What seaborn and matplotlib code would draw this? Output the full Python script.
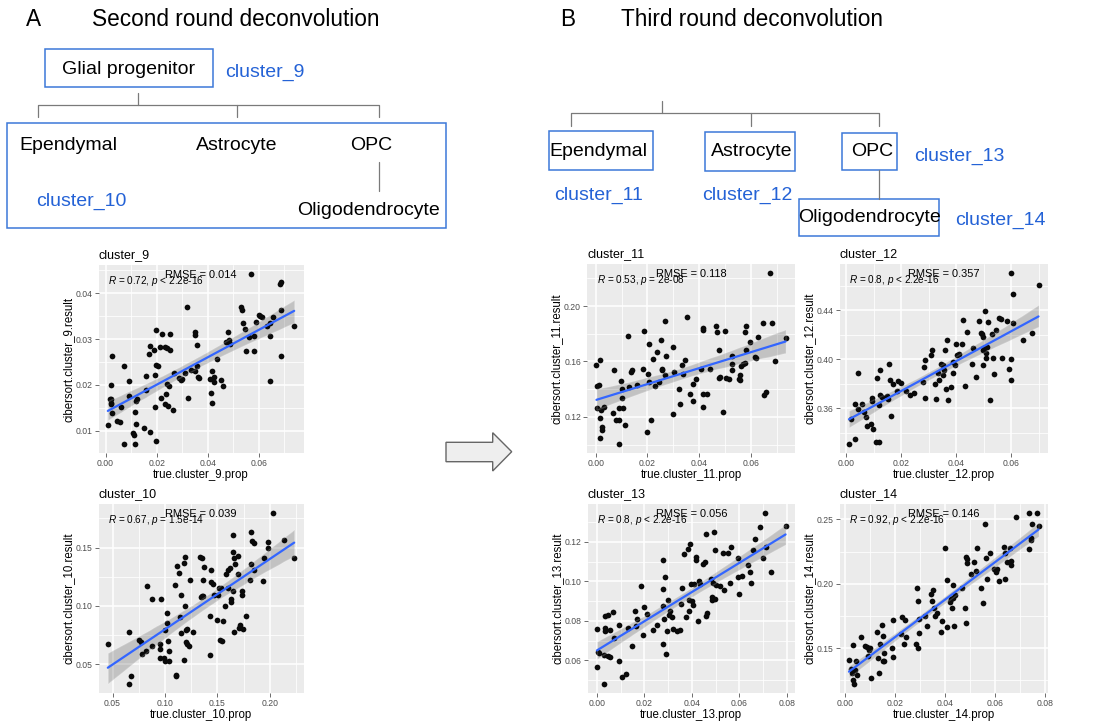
import numpy as np
import pandas as pd
import matplotlib
matplotlib.use("Agg")
import matplotlib.pyplot as plt
import seaborn as sns
from matplotlib.ticker import MultipleLocator, FormatStrFormatter
from matplotlib.patches import Rectangle, Polygon
from matplotlib.lines import Line2D

# ---------------- data ----------------
cluster_names = ["cluster_9", "cluster_10", "cluster_11", "cluster_12", "cluster_13", "cluster_14"]
r_values = ["0.72", "0.67", "0.53", "0.8", "0.8", "0.92"]
p_texts = ["< 2.2e-16", "= 1.5e-14", "= 2e-08", "< 2.2e-16", "< 2.2e-16", "< 2.2e-16"]
rmse_values = ["0.014", "0.039", "0.118", "0.357", "0.056", "0.146"]

c9_true = [0.0009,0.0017,0.0022,0.0020,0.0023,0.0026,0.0022,0.0026,0.0045,0.0058,
           0.0060,0.0071,0.0074,0.0090,0.0091,0.0108,0.0113,0.0116,0.0118,0.0116,
           0.0120,0.0122,0.0149,0.0160,0.0160,0.0169,0.0173,0.0174,0.0190,0.0194,
           0.0192,0.0196,0.0199,0.0199,0.0204,0.0212,0.0218,0.0222,0.0231,0.0232,
           0.0238,0.0240,0.0244,0.0242,0.0247,0.0253,0.0251,0.0264,0.0269,0.0286,
           0.0295,0.0299,0.0312,0.0318,0.0321,0.0334,0.0349,0.0349,0.0351,0.0357,
           0.0357,0.0362,0.0364,0.0409,0.0414,0.0418,0.0418,0.0425,0.0425,0.0438,
           0.0453,0.0461,0.0471,0.0478,0.0482,0.0486,0.0530,0.0532,0.0538,0.0547,
           0.0548,0.0561,0.0569,0.0581,0.0582,0.0588,0.0600,0.0604,0.0613,0.0632,
           0.0643,0.0645,0.0645,0.0656,0.0682,0.0688,0.0688,0.0688,0.0738]
c9_result = [0.0112,0.0169,0.0169,0.0160,0.0158,0.0139,0.0199,0.0263,0.0122,0.0120,
             0.0152,0.0070,0.0242,0.0208,0.0175,0.0096,0.0091,0.0141,0.0114,0.0070,
             0.0165,0.0169,0.0107,0.0188,0.0219,0.0268,0.0285,0.0098,0.0277,0.0152,
             0.0221,0.0320,0.0077,0.0244,0.0241,0.0283,0.0172,0.0310,0.0158,0.0282,
             0.0180,0.0280,0.0154,0.0201,0.0197,0.0310,0.0277,0.0146,0.0226,0.0214,
             0.0210,0.0212,0.0225,0.0371,0.0172,0.0233,0.0315,0.0308,0.0230,0.0288,
             0.0241,0.0217,0.0214,0.0213,0.0183,0.0230,0.0161,0.0217,0.0207,0.0257,
             0.0211,0.0197,0.0293,0.0315,0.0298,0.0290,0.0371,0.0364,0.0335,0.0322,
             0.0275,0.0304,0.0443,0.0275,0.0306,0.0337,0.0353,0.0350,0.0348,0.0328,
             0.0307,0.0208,0.0335,0.0349,0.0420,0.0424,0.0364,0.0263,0.0328]

c10_true = [0.0455,0.0659,0.0659,0.0675,0.0755,0.0774,0.0780,0.0815,0.0831,0.0879,
            0.0879,0.0949,0.0952,0.0952,0.0965,0.0990,0.1003,0.0997,0.1016,0.1022,
            0.1029,0.1038,0.1041,0.1096,0.1102,0.1105,0.1111,0.1137,0.1140,0.1153,
            0.1156,0.1182,0.1188,0.1185,0.1191,0.1197,0.1204,0.1213,0.1213,0.1229,
            0.1239,0.1270,0.1334,0.1354,0.1340,0.1354,0.1366,0.1373,0.1366,0.1427,
            0.1430,0.1436,0.1436,0.1462,0.1468,0.1500,0.1506,0.1516,0.1525,0.1532,
            0.1548,0.1554,0.1570,0.1586,0.1602,0.1605,0.1621,0.1627,0.1634,0.1646,
            0.1650,0.1653,0.1659,0.1659,0.1666,0.1697,0.1697,0.1707,0.1716,0.1732,
            0.1739,0.1748,0.1770,0.1812,0.1825,0.1825,0.1828,0.1850,0.1850,0.1939,
            0.1946,0.1987,0.1987,0.2029,0.2131,0.2232]
c10_result = [0.0678,0.0778,0.0328,0.0399,0.0712,0.0692,0.0590,0.0613,0.1168,0.1063,
              0.0661,0.0675,0.0632,0.0550,0.1063,0.0556,0.0527,0.0792,0.0855,0.0940,
              0.0704,0.0527,0.0613,0.1177,0.0399,0.0410,0.1345,0.1282,0.0903,0.1097,
              0.0769,0.1368,0.0997,0.0533,0.1419,0.0690,0.0798,0.0806,0.0675,0.0661,
              0.1225,0.0778,0.1419,0.1407,0.1077,0.1083,0.1225,0.1330,0.1083,0.0576,
              0.0917,0.1202,0.1305,0.1191,0.1097,0.0883,0.1097,0.1154,0.0712,0.1154,
              0.0700,0.0869,0.0997,0.1274,0.1305,0.1154,0.1325,0.1031,0.1060,0.1125,
              0.1610,0.1459,0.1410,0.0778,0.1362,0.1276,0.1425,0.0812,0.0835,0.1097,
              0.1125,0.0806,0.0917,0.1225,0.1632,0.1359,0.1553,0.1538,0.1305,0.1217,
              0.1410,0.1547,0.1496,0.1800,0.1561,0.1407]

c11_true = [0.0003,0.0005,0.0005,0.0013,0.0016,0.0016,0.0018,0.0022,0.0026,0.0026,
            0.0034,0.0065,0.0071,0.0078,0.0089,0.0091,0.0091,0.0096,0.0100,0.0103,
            0.0106,0.0113,0.0124,0.0129,0.0138,0.0142,0.0158,0.0184,0.0186,0.0197,
            0.0202,0.0204,0.0207,0.0212,0.0222,0.0229,0.0235,0.0246,0.0252,0.0255,
            0.0255,0.0269,0.0270,0.0269,0.0297,0.0300,0.0303,0.0323,0.0326,0.0332,
            0.0336,0.0345,0.0354,0.0365,0.0375,0.0375,0.0388,0.0407,0.0413,0.0415,
            0.0415,0.0416,0.0429,0.0442,0.0466,0.0468,0.0477,0.0478,0.0481,0.0491,
            0.0499,0.0504,0.0513,0.0526,0.0527,0.0527,0.0555,0.0556,0.0559,0.0561,
            0.0569,0.0578,0.0578,0.0582,0.0582,0.0597,0.0614,0.0619,0.0625,0.0647,
            0.0649,0.0656,0.0672,0.0680,0.0693,0.0733]
c11_result = [0.1573,0.1422,0.1265,0.1429,0.1610,0.1193,0.1048,0.1253,0.1104,0.1128,
              0.1272,0.1229,0.1537,0.1176,0.1181,0.1002,0.1267,0.1458,0.1340,0.1405,
              0.1265,0.1140,0.1783,0.1417,0.1525,0.1537,0.1434,0.1549,0.1822,0.1092,
              0.1513,0.1453,0.1723,0.1181,0.1617,0.1422,0.1670,0.1453,0.1754,0.1549,
              0.1537,0.1892,0.1639,0.1501,0.1706,0.1219,0.1525,0.1398,0.1292,0.1573,
              0.1508,0.1610,0.1923,0.1369,0.1441,0.1313,0.1477,0.1549,0.1839,0.1827,
              0.1272,0.1369,0.1369,0.1549,0.1855,0.1810,0.1682,0.1482,0.1489,0.1236,
              0.1822,0.1482,0.1477,0.1639,0.1581,0.1537,0.1477,0.1501,0.1465,0.1566,
              0.1581,0.1586,0.1814,0.1855,0.1682,0.1737,0.1629,0.1622,0.1778,0.1875,
              0.1357,0.1381,0.2241,0.1875,0.1602,0.1770]

c12_true = [0.0011,0.0018,0.0032,0.0034,0.0042,0.0044,0.0058,0.0067,0.0074,0.0076,
            0.0092,0.0093,0.0095,0.0098,0.0108,0.0120,0.0113,0.0121,0.0122,0.0125,
            0.0131,0.0147,0.0153,0.0155,0.0159,0.0164,0.0171,0.0185,0.0189,0.0200,
            0.0219,0.0232,0.0248,0.0280,0.0282,0.0285,0.0286,0.0307,0.0313,0.0322,
            0.0325,0.0335,0.0337,0.0343,0.0352,0.0353,0.0355,0.0359,0.0365,0.0361,
            0.0370,0.0379,0.0387,0.0388,0.0394,0.0399,0.0404,0.0410,0.0424,0.0422,
            0.0432,0.0440,0.0458,0.0462,0.0473,0.0482,0.0488,0.0493,0.0496,0.0498,
            0.0498,0.0501,0.0503,0.0507,0.0509,0.0513,0.0515,0.0522,0.0528,0.0533,
            0.0537,0.0544,0.0555,0.0561,0.0567,0.0582,0.0592,0.0598,0.0600,0.0600,
            0.0607,0.0607,0.0642,0.0673,0.0698]
c12_result = [0.3304,0.3514,0.3637,0.3350,0.3596,0.3888,0.3631,0.3569,0.3528,0.3451,
              0.3473,0.3659,0.3683,0.3427,0.3323,0.3323,0.3847,0.3623,0.3705,0.3915,
              0.3691,0.3697,0.3678,0.3964,0.3833,0.3536,0.3801,0.3738,0.3822,0.3806,
              0.3738,0.3705,0.3724,0.3814,0.3937,0.3997,0.3686,0.4038,0.4079,0.3801,
              0.3672,0.3891,0.3833,0.3959,0.3951,0.3874,0.3910,0.4074,0.4156,0.3754,
              0.3670,0.3773,0.3978,0.3888,0.3951,0.4128,0.4033,0.4046,0.4320,0.4128,
              0.3779,0.4224,0.3959,0.4096,0.3855,0.4314,0.4218,0.4205,0.4183,0.4074,
              0.3951,0.4096,0.4396,0.4014,0.4052,0.4101,0.4306,0.3670,0.4210,0.4014,
              0.3877,0.4238,0.4339,0.4328,0.4011,0.4311,0.3924,0.4005,0.3833,0.4710,
              0.4538,0.4298,0.4156,0.4216,0.4606]

c13_true = [0.0000,0.0000,0.0003,0.0007,0.0028,0.0028,0.0035,0.0035,0.0036,0.0046,
            0.0046,0.0056,0.0057,0.0067,0.0070,0.0091,0.0095,0.0107,0.0123,0.0129,
            0.0147,0.0160,0.0164,0.0168,0.0186,0.0193,0.0199,0.0210,0.0238,0.0255,
            0.0278,0.0278,0.0280,0.0283,0.0280,0.0286,0.0292,0.0294,0.0301,0.0303,
            0.0308,0.0315,0.0322,0.0339,0.0350,0.0355,0.0360,0.0365,0.0374,0.0383,
            0.0388,0.0388,0.0393,0.0397,0.0402,0.0405,0.0409,0.0418,0.0418,0.0428,
            0.0432,0.0435,0.0446,0.0456,0.0460,0.0460,0.0465,0.0479,0.0484,0.0486,
            0.0491,0.0493,0.0498,0.0498,0.0500,0.0519,0.0533,0.0536,0.0551,0.0561,
            0.0565,0.0593,0.0596,0.0599,0.0610,0.0638,0.0645,0.0649,0.0659,0.0666,
            0.0687,0.0698,0.0708,0.0712,0.0733,0.0795]
c13_result = [0.0760,0.0566,0.0644,0.0639,0.0479,0.0630,0.0824,0.0765,0.0751,0.0832,
              0.0625,0.0618,0.0753,0.0845,0.0714,0.0597,0.0778,0.0518,0.0533,0.0765,
              0.0672,0.0852,0.0773,0.0812,0.0978,0.0731,0.0869,0.0837,0.0756,0.0778,
              0.1106,0.0961,0.0874,0.0812,0.0681,0.1022,0.0634,0.0751,0.0904,0.0829,
              0.0849,0.0818,0.0760,0.0748,0.0756,0.0886,0.0966,0.1138,0.0818,0.1165,
              0.0908,0.0852,0.1190,0.0988,0.0903,0.0882,0.0988,0.1121,0.1109,0.0798,
              0.1000,0.0988,0.1089,0.1097,0.1240,0.0824,0.0840,0.1013,0.0919,0.0908,
              0.0992,0.1249,0.0911,0.1160,0.0983,0.0975,0.1146,0.0958,0.1146,0.0992,
              0.1176,0.1118,0.1020,0.0936,0.1025,0.1084,0.1050,0.0992,0.1160,0.1213,
              0.1274,0.1118,0.1348,0.1176,0.1047,0.1280]

c14_true = [0.0016,0.0023,0.0027,0.0033,0.0033,0.0036,0.0040,0.0045,0.0049,0.0063,
            0.0080,0.0089,0.0093,0.0095,0.0099,0.0104,0.0128,0.0132,0.0137,0.0139,
            0.0147,0.0153,0.0153,0.0156,0.0157,0.0187,0.0193,0.0193,0.0225,0.0229,
            0.0236,0.0240,0.0244,0.0283,0.0289,0.0292,0.0293,0.0296,0.0297,0.0320,
            0.0327,0.0345,0.0349,0.0353,0.0356,0.0361,0.0369,0.0383,0.0389,0.0400,
            0.0407,0.0409,0.0419,0.0425,0.0429,0.0432,0.0433,0.0436,0.0439,0.0469,
            0.0480,0.0483,0.0485,0.0487,0.0487,0.0505,0.0516,0.0523,0.0529,0.0544,
            0.0552,0.0559,0.0563,0.0567,0.0580,0.0596,0.0603,0.0605,0.0609,0.0616,
            0.0636,0.0639,0.0640,0.0647,0.0660,0.0663,0.0663,0.0683,0.0736,0.0736,
            0.0743,0.0745,0.0749,0.0769,0.0775]
c14_result = [0.1405,0.1338,0.1306,0.1527,0.1255,0.1218,0.1327,0.1403,0.1288,0.1584,
              0.1514,0.1506,0.1436,0.1483,0.1501,0.1270,0.1623,0.1426,0.1306,0.1532,
              0.1678,0.1597,0.1397,0.1462,0.1397,0.1501,0.1431,0.1717,0.1613,0.1743,
              0.1535,0.1722,0.1584,0.1532,0.1964,0.1865,0.1501,0.1618,0.1727,0.1748,
              0.1675,0.1917,0.1865,0.1951,0.1813,0.1753,0.1774,0.1623,0.1709,0.2275,
              0.2029,0.1665,0.1857,0.1878,0.1813,0.1987,0.1891,0.1670,0.1909,0.1969,
              0.1813,0.1696,0.2210,0.2190,0.2158,0.2073,0.2171,0.2099,0.2275,0.1969,
              0.1852,0.2468,0.2203,0.2034,0.2236,0.2117,0.2106,0.2091,0.2117,0.2021,
              0.2286,0.2034,0.2236,0.2169,0.2275,0.2177,0.2143,0.2520,0.2273,0.2553,
              0.2338,0.2358,0.2462,0.2553,0.2449]

true_values = [c9_true, c10_true, c11_true, c12_true, c13_true, c14_true]
result_values = [c9_result, c10_result, c11_result, c12_result, c13_result, c14_result]

# ---------------- style ----------------
sns.set_theme(style="darkgrid")
plt.rcParams["font.family"] = ["Liberation Sans", "DejaVu Sans"]
plt.rcParams["mathtext.fontset"] = "custom"
plt.rcParams["mathtext.rm"] = "Liberation Sans"
plt.rcParams["mathtext.it"] = "Liberation Sans:italic"

W, H = 1102, 721
fig = plt.figure(figsize=(W / 100, H / 100), dpi=100)
fig.patch.set_facecolor("white")

def fx(px):
    return px / W

def fy(py):
    return 1 - py / H

BLUE_TXT = "#2462D6"
BLUE_BOX = "#3C78D8"
GRAY_LN = "#7A7A7A"

# panel layout (pixels: left, top, right, bottom), tick steps
layout = [
    (98.5, 265, 303.5, 453, 0.02, 0.01),
    (98.5, 504, 303.5, 693, 0.05, 0.05),
    (587, 264, 795, 453, 0.02, 0.04),
    (839.5, 264, 1048, 453, 0.02, 0.04),
    (587.5, 504, 795, 693, 0.02, 0.02),
    (839.5, 504, 1048, 693, 0.02, 0.05),
]

for i, name in enumerate(cluster_names):
    l, t, r, b, xs, ys = layout[i]
    ax = fig.add_axes([fx(l), fy(b), (r - l) / W, (b - t) / H])
    xcol = f"true.{name}.prop"
    ycol = f"cibersort.{name}.result"
    df = pd.DataFrame({xcol: true_values[i], ycol: result_values[i]})
    # points + confidence band (gray)
    sns.regplot(data=df, x=xcol, y=ycol, ax=ax, color="#0A0A0A", ci=95,
                n_boot=1000, seed=3,
                scatter_kws=dict(s=17, linewidths=0, alpha=1, zorder=3),
                line_kws=dict(lw=0))
    # fitted line (blue)
    sns.regplot(data=df, x=xcol, y=ycol, ax=ax, scatter=False, ci=None,
                color="#3366FF", line_kws=dict(lw=1.6, zorder=5))
    for coll in ax.collections:
        if coll.__class__.__name__ in ("PolyCollection", "FillBetweenPolyCollection"):
            coll.set_zorder(4)
            coll.set_alpha(0.18)

    xmin, xmax = min(true_values[i]), max(true_values[i])
    ymin, ymax = min(result_values[i]), max(result_values[i])
    dx, dy = (xmax - xmin) * 0.05, (ymax - ymin) * 0.05
    ax.set_xlim(xmin - dx, xmax + dx)
    ax.set_ylim(ymin - dy, ymax + dy)

    ax.set_facecolor("#EBEBEB")
    for sp in ax.spines.values():
        sp.set_visible(False)
    ax.xaxis.set_major_locator(MultipleLocator(xs))
    ax.xaxis.set_minor_locator(MultipleLocator(xs / 2))
    ax.yaxis.set_major_locator(MultipleLocator(ys))
    ax.yaxis.set_minor_locator(MultipleLocator(ys / 2))
    ax.xaxis.set_major_formatter(FormatStrFormatter("%.2f"))
    ax.yaxis.set_major_formatter(FormatStrFormatter("%.2f"))
    ax.grid(which="major", color="white", lw=1.1)
    ax.grid(which="minor", color="white", lw=0.55)
    ax.set_axisbelow(True)
    ax.tick_params(which="major", length=2.75, width=0.5, color="#333333",
                   labelsize=6.2, labelcolor="#4D4D4D", pad=1.5,
                   bottom=True, left=True)
    ax.tick_params(which="minor", length=0)
    ax.set_xlabel(xcol, fontsize=8.3, color="black", labelpad=0.5)
    ax.set_ylabel(ycol, fontsize=8.3, color="black", labelpad=1.0)
    ax.set_title(name, loc="left", fontsize=9, color="black", pad=5)

    ax.text(0.5, 0.948, f"RMSE = {rmse_values[i]}", transform=ax.transAxes,
            ha="center", va="center", fontsize=7.9, color="black", zorder=6)
    ax.text(0.046, 0.915, rf"$\it{{R}}$ = {r_values[i]}, $\it{{p}}$ {p_texts[i]}",
            transform=ax.transAxes, ha="left", va="center", fontsize=7.2,
            color="black", zorder=6)

# ---------------- diagrams ----------------
def box(x0, y0, x1, y1):
    fig.add_artist(Rectangle((fx(x0), fy(y1)), (x1 - x0) / W, (y1 - y0) / H,
                             transform=fig.transFigure, fill=False,
                             edgecolor=BLUE_BOX, lw=1.1))

def seg(pts):
    xs_ = [fx(p[0]) for p in pts]
    ys_ = [fy(p[1]) for p in pts]
    fig.add_artist(Line2D(xs_, ys_, transform=fig.transFigure, color=GRAY_LN, lw=0.9))

def label(x, y, s, color="black", size=14, ha="center"):
    fig.text(fx(x), fy(y), s, color=color, fontsize=size, ha=ha, va="center")

# headers
label(26, 19, "A", size=16.3, ha="left")
label(92.5, 19, "Second round deconvolution", size=16.3, ha="left")
label(560.5, 19, "B", size=16.3, ha="left")
label(621, 19, "Third round deconvolution", size=16.3, ha="left")

# A tree
box(45, 49, 212.7, 87.3)
label(128.8, 69, "Glial progenitor")
label(225, 72, "cluster_9", color=BLUE_TXT, ha="left")
seg([(137.7, 93.3), (137.7, 105)])
seg([(37.7, 117.3), (37.7, 105), (379, 105), (379, 117.3)])
seg([(237.3, 105), (237.3, 117.3)])
box(6.7, 123.3, 446, 227.7)
label(68, 145, "Ependymal")
label(237, 145, "Astrocyte")
label(370.8, 145, "OPC")
seg([(379, 162.3), (379, 190.7)])
label(368.8, 210.5, "Oligodendrocyte")
label(81.7, 201, "cluster_10", color=BLUE_TXT)

# B tree
seg([(661.7, 101), (661.7, 112.7)])
seg([(571, 125.7), (571, 112.7), (879.3, 112.7), (879.3, 125.7)])
seg([(751.3, 112.7), (751.3, 125.7)])
box(549, 131, 652.7, 170)
box(705, 132.3, 795, 170.7)
box(841.7, 132.7, 896.7, 170)
seg([(879.3, 170), (879.3, 199)])
box(799.3, 199, 939.3, 235.7)
label(598.8, 152, "Ependymal")
label(751.3, 152, "Astrocyte")
label(871.7, 152, "OPC")
label(869.7, 217.5, "Oligodendrocyte")
label(598.2, 195.5, "cluster_11", color=BLUE_TXT)
label(747.2, 195.5, "cluster_12", color=BLUE_TXT)
label(914.3, 156, "cluster_13", color=BLUE_TXT, ha="left")
label(1000, 220.5, "cluster_14", color=BLUE_TXT)

# arrow between A and B
arrow_pts = [(446, 442.3), (492.7, 442.3), (492.7, 432.7), (511.7, 451.7),
             (492.7, 471), (492.7, 461.7), (446, 461.7)]
fig.add_artist(Polygon([(fx(x), fy(y)) for x, y in arrow_pts], closed=True,
                       transform=fig.transFigure, facecolor="#EEEEEE",
                       edgecolor="#666666", lw=1.0))

fig.savefig("out.png", dpi=100, facecolor="white")
